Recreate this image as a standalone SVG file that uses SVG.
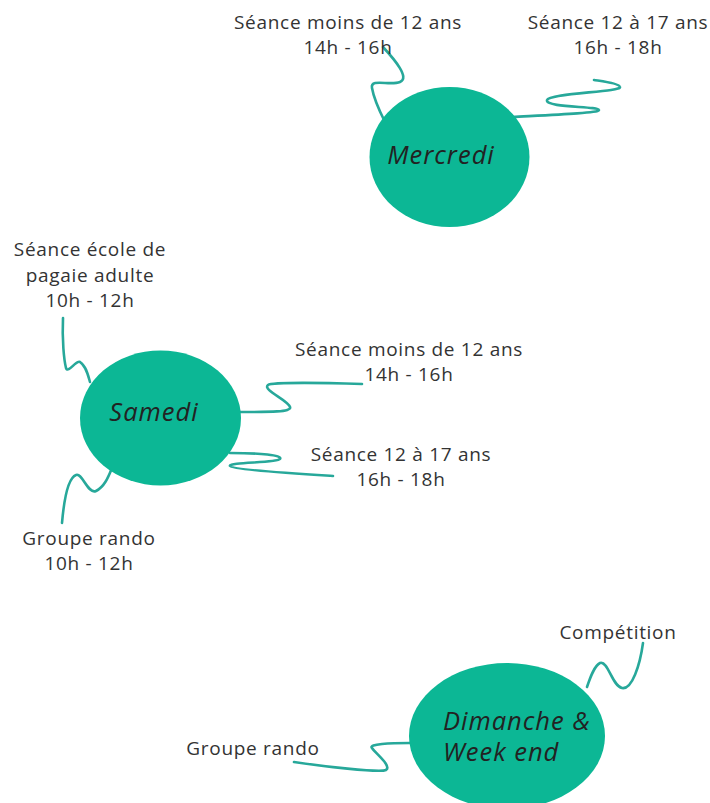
<svg xmlns="http://www.w3.org/2000/svg" width="710" height="803" viewBox="0 0 710 803">
<style>
.node{fill:#0cb795}
.lbl{font-family:"Open Sans","Liberation Sans",sans-serif;font-size:19px;letter-spacing:0.7px;fill:#333;text-anchor:middle}
.nl{font-family:"Open Sans","Liberation Sans",sans-serif;font-size:25.5px;letter-spacing:1px;font-style:italic;fill:#222}
.c{fill:none;stroke:#27a89a;stroke-width:2.6;stroke-linecap:round}
</style>
<rect width="710" height="803" fill="#fff"/>
<g id="connectors">
<path class="c" d="M383,47 C395,60 410,78 400,82 C390,86 370,78 372,88 C374,100 380,112 385,122"/>
<path class="c" d="M512,117 C550,115 600,113 599,110 C598,106 545,108 547,100 C549,93 622,92 620,87 C619,83 600,81 594,80"/>
<path class="c" d="M63,318 C62,340 64,360 66,368 C68,374 76,360 80,362 C86,366 88,375 90,382"/>
<path class="c" d="M240,412 C270,412 292,412 290,407 C288,400 262,390 268,385 C272,382 330,383 362,384"/>
<path class="c" d="M230,453 C260,453 283,455 280,459 C277,463 228,462 230,466 C232,470 300,474 333,476"/>
<path class="c" d="M62,523 C64,500 68,478 76,475 C82,472 88,495 96,491 C104,487 108,478 112,468"/>
<path class="c" d="M643,643 C640,665 632,690 622,688 C612,686 608,660 600,663 C594,666 590,678 587,687"/>
<path class="c" d="M410,743 C390,743 368,744 372,748 C376,754 392,766 386,770 C380,773 320,766 294,762"/>
</g>
<g id="mercredi">
<ellipse class="node" cx="449.5" cy="157" rx="80" ry="70"/>
<text class="nl" x="441" y="164" text-anchor="middle">Mercredi</text>
</g>
<g id="samedi">
<ellipse class="node" cx="160.5" cy="418" rx="80.5" ry="67.5"/>
<text class="nl" x="154" y="421" text-anchor="middle">Samedi</text>
</g>
<g id="dimanche">
<ellipse class="node" cx="507" cy="736" rx="98" ry="73"/>
<text class="nl" x="443" y="730">Dimanche &amp;</text>
<text class="nl" x="443" y="761">Week end</text>
</g>
<g id="mer-moins12">
<text class="lbl" x="348" y="29">Séance moins de 12 ans</text>
<text class="lbl" x="348" y="54">14h - 16h</text>
</g>
<g id="mer-12-17">
<text class="lbl" x="618" y="29">Séance 12 à 17 ans</text>
<text class="lbl" x="618" y="54">16h - 18h</text>
</g>
<g id="sam-ecole">
<text class="lbl" x="90" y="256">Séance école de</text>
<text class="lbl" x="90" y="282">pagaie adulte</text>
<text class="lbl" x="90" y="307">10h - 12h</text>
</g>
<g id="sam-moins12">
<text class="lbl" x="409" y="356">Séance moins de 12 ans</text>
<text class="lbl" x="409" y="381">14h - 16h</text>
</g>
<g id="sam-12-17">
<text class="lbl" x="401" y="461">Séance 12 à 17 ans</text>
<text class="lbl" x="401" y="486">16h - 18h</text>
</g>
<g id="sam-rando">
<text class="lbl" x="89" y="545">Groupe rando</text>
<text class="lbl" x="89" y="570">10h - 12h</text>
</g>
<g id="dim-competition">
<text class="lbl" x="618" y="639">Compétition</text>
</g>
<g id="dim-rando">
<text class="lbl" x="253" y="755">Groupe rando</text>
</g>
</svg>
